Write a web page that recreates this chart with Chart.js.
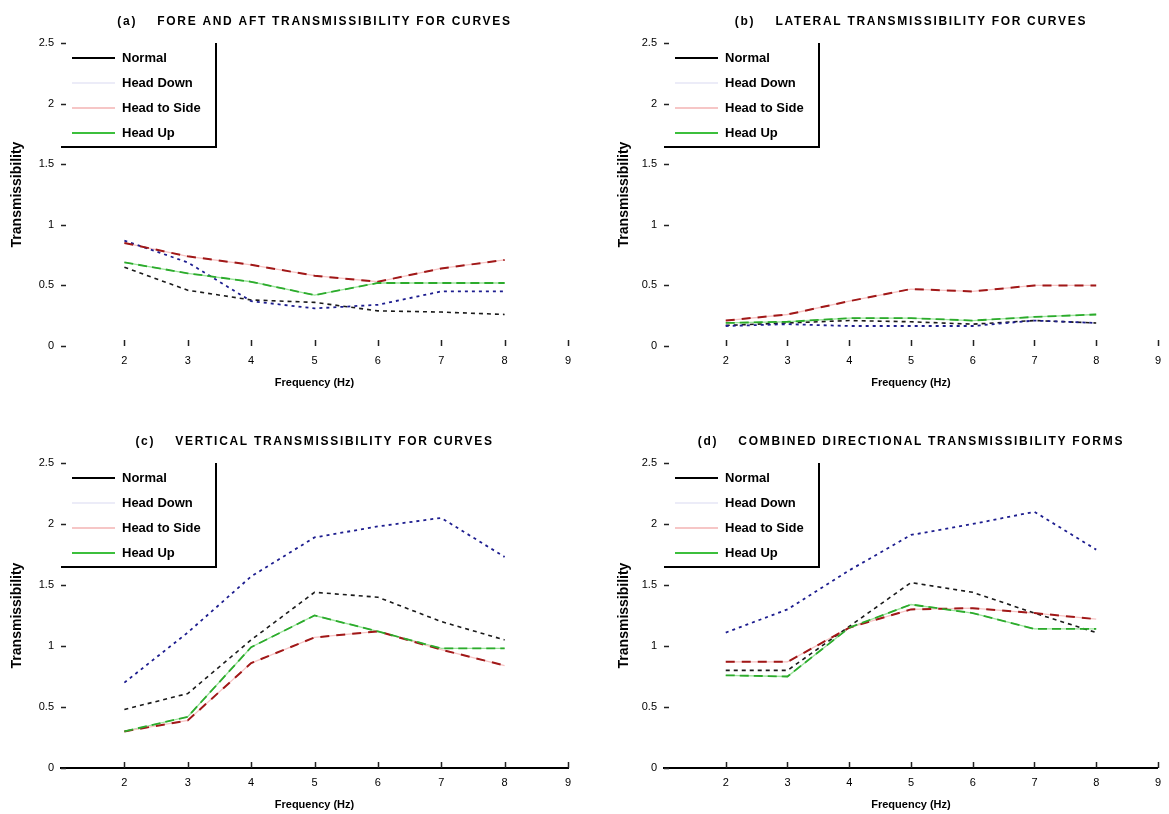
<!DOCTYPE html>
<html>
<head>
<meta charset="utf-8">
<title>Transmissibility curves</title>
<script src="https://cdn.jsdelivr.net/npm/chart.js@4.4.1/dist/chart.umd.min.js"></script>
<style>
  body { margin: 0; background: #fff; }
  #wrap { position: relative; width: 1169px; height: 814px; overflow: hidden; }
  .panel { position: absolute; }
</style>
</head>
<body>
<div id="wrap">
  <div class="panel" style="left:0;top:0;width:584px;height:392px"><canvas id="chart-a"></canvas></div>
  <div class="panel" style="left:584px;top:0;width:585px;height:392px"><canvas id="chart-b"></canvas></div>
  <div class="panel" style="left:0;top:420px;width:584px;height:394px"><canvas id="chart-c"></canvas></div>
  <div class="panel" style="left:584px;top:420px;width:585px;height:394px"><canvas id="chart-d"></canvas></div>
</div>
<script>
const freq = [2, 3, 4, 5, 6, 7, 8];
const freqTicks = [2, 3, 4, 5, 6, 7, 8, 9];
const transTicks = [0, 0.5, 1, 1.5, 2, 2.5];
const seriesNames = ['Normal', 'Head Down', 'Head to Side', 'Head Up'];

// (a) fore and aft
const foreAftNormal = [0.65, 0.46, 0.38, 0.36, 0.29, 0.28, 0.26];
const foreAftDown   = [0.87, 0.69, 0.37, 0.31, 0.34, 0.45, 0.45];
const foreAftSide   = [0.85, 0.74, 0.67, 0.58, 0.53, 0.64, 0.71];
const foreAftUp     = [0.69, 0.60, 0.53, 0.42, 0.52, 0.52, 0.52];

// (b) lateral
const lateralNormal = [0.17, 0.19, 0.21, 0.20, 0.18, 0.21, 0.19];
const lateralDown   = [0.165, 0.18, 0.165, 0.165, 0.165, 0.21, 0.19];
const lateralSide   = [0.21, 0.26, 0.37, 0.47, 0.45, 0.50, 0.50];
const lateralUp     = [0.19, 0.20, 0.23, 0.23, 0.21, 0.24, 0.26];

// (c) vertical
const verticalNormal = [0.48, 0.61, 1.05, 1.44, 1.40, 1.20, 1.05];
const verticalDown   = [0.70, 1.11, 1.57, 1.89, 1.98, 2.05, 1.73];
const verticalSide   = [0.30, 0.39, 0.86, 1.07, 1.12, 0.97, 0.84];
const verticalUp     = [0.30, 0.42, 0.99, 1.25, 1.12, 0.98, 0.98];

// (d) combined
const combinedNormal = [0.80, 0.80, 1.16, 1.52, 1.44, 1.27, 1.11];
const combinedDown   = [1.11, 1.30, 1.62, 1.91, 2.00, 2.10, 1.79];
const combinedSide   = [0.87, 0.87, 1.15, 1.30, 1.31, 1.27, 1.22];
const combinedUp     = [0.76, 0.75, 1.15, 1.34, 1.27, 1.14, 1.14];

const FONT = '"Liberation Sans", Arial, sans-serif';
Chart.defaults.font.family = FONT;
Chart.defaults.color = '#000';

// one entry per series: main stroke, optional pale stroke underneath
const lineStyles = [
    {color: '#1a1a1a', dash: [4, 4], width: 1.6},
    {color: '#1d1d8f', dash: [3, 4], width: 1.8},
    {color: '#a01818', dash: [9, 7], width: 2, under: '#f7c4c4'},
    {color: '#2cab2c', dash: [9, 5], width: 1.8, under: '#9be39b'},
];
const legendSwatch = ['#000000', '#ececf8', '#f6c6c6', '#3cbf3c'];

const panelTitle = {
    id: 'panelTitle',
    afterDraw(chart, args, opts) {
        const {ctx, chartArea: a} = chart;
        ctx.save();
        ctx.font = 'bold 12px ' + FONT;
        ctx.letterSpacing = '1.7px';
        ctx.fillStyle = '#000';
        ctx.textAlign = 'center';
        ctx.textBaseline = 'middle';
        ctx.fillText(opts.text, (a.left + a.right) / 2, opts.y);
        ctx.restore();
    }
};

// short tick marks pointing into the axes, matlab style
const innerTicks = {
    id: 'innerTicks',
    afterDraw(chart) {
        const {ctx, chartArea: a, scales: {x, y}} = chart;
        ctx.save();
        ctx.strokeStyle = '#222';
        ctx.lineWidth = 1.5;
        ctx.beginPath();
        x.ticks.forEach(t => {
            const px = Math.round(x.getPixelForValue(t.value)) + 0.5;
            ctx.moveTo(px, a.bottom);
            ctx.lineTo(px, a.bottom - 6);
        });
        y.ticks.forEach(t => {
            const py = Math.round(y.getPixelForValue(t.value)) + 0.5;
            ctx.moveTo(a.left, py);
            ctx.lineTo(a.left + 5, py);
        });
        ctx.stroke();
        ctx.restore();
    }
};

const boxLegend = {
    id: 'boxLegend',
    afterDatasetsDraw(chart) {
        const {ctx, chartArea: a} = chart;
        const w = 155, h = 104;
        ctx.save();
        ctx.fillStyle = '#fff';
        ctx.fillRect(a.left, a.top, w, h);
        ctx.strokeStyle = '#000';
        ctx.lineWidth = 2;
        ctx.beginPath();
        ctx.moveTo(a.left, a.top + h);
        ctx.lineTo(a.left + w, a.top + h);
        ctx.lineTo(a.left + w, a.top);
        ctx.stroke();
        ctx.font = 'bold 13px ' + FONT;
        ctx.textBaseline = 'middle';
        ctx.fillStyle = '#000';
        seriesNames.forEach((name, i) => {
            const yy = a.top + 15 + i * 25;
            ctx.strokeStyle = legendSwatch[i];
            ctx.lineWidth = 2;
            ctx.beginPath();
            ctx.moveTo(a.left + 11, yy);
            ctx.lineTo(a.left + 54, yy);
            ctx.stroke();
            ctx.fillText(name, a.left + 61, yy);
        });
        ctx.restore();
    }
};

function buildDatasets(series) {
    const datasets = [];
    series.forEach((vals, i) => {
        const st = lineStyles[i];
        const pts = freq.map((f, k) => ({x: f, y: vals[k]}));
        if (st.under) {
            datasets.push({
                label: seriesNames[i] + ' base',
                data: pts,
                borderColor: st.under,
                borderWidth: 1.3,
                pointRadius: 0,
                order: 10 + i,
            });
        }
        datasets.push({
            label: seriesNames[i],
            data: pts,
            borderColor: st.color,
            borderWidth: st.width,
            borderDash: st.dash,
            pointRadius: 0,
            order: 3 - i,
        });
    });
    return datasets;
}

function makePanel(id, title, series, p) {
    const ctx = document.getElementById(id).getContext('2d');
    return new Chart(ctx, {
        type: 'line',
        data: {datasets: buildDatasets(series)},
        options: {
            animation: false,
            responsive: true,
            maintainAspectRatio: false,
            layout: {padding: {top: 43, right: p.padRight, left: 0, bottom: 0}},
            scales: {
                x: {
                    type: 'linear',
                    min: 1,
                    max: 9,
                    afterBuildTicks: s => { s.ticks = freqTicks.map(v => ({value: v})); },
                    afterFit: s => { s.height = p.xHeight; },
                    grid: {display: false, drawTicks: false},
                    border: {display: p.axisLine, color: '#000', width: 2},
                    ticks: {font: {size: 11}, padding: 8, maxRotation: 0},
                    title: {
                        display: true,
                        text: 'Frequency (Hz)',
                        font: {size: 11, weight: 'bold'},
                        padding: {top: 0, bottom: p.xTitlePad},
                    },
                },
                y: {
                    min: 0,
                    max: 2.5,
                    afterBuildTicks: s => { s.ticks = transTicks.map(v => ({value: v})); },
                    afterFit: s => { s.width = p.yWidth; },
                    grid: {display: false, drawTicks: false},
                    border: {display: false},
                    ticks: {font: {size: 11}, padding: 7, callback: v => String(v)},
                    title: {
                        display: true,
                        text: 'Transmissibility',
                        font: {size: 14, weight: 'bold'},
                        padding: {top: p.yTitlePad, bottom: 0},
                    },
                },
            },
            plugins: {
                legend: {display: false},
                tooltip: {enabled: false},
                panelTitle: {text: title, y: 22},
            },
        },
        plugins: [panelTitle, innerTicks, boxLegend],
    });
}

const leftCol = {yWidth: 61, padRight: 16, yTitlePad: 9};
const rightCol = {yWidth: 80, padRight: 1, yTitlePad: 32};
const topRow = {xHeight: 46, xTitlePad: 2.4, axisLine: false};
const bottomRow = {xHeight: 46, xTitlePad: 2.4, axisLine: true};

makePanel('chart-a', '(a)    FORE AND AFT TRANSMISSIBILITY FOR CURVES',
    [foreAftNormal, foreAftDown, foreAftSide, foreAftUp], {...leftCol, ...topRow});
makePanel('chart-b', '(b)    LATERAL TRANSMISSIBILITY FOR CURVES',
    [lateralNormal, lateralDown, lateralSide, lateralUp], {...rightCol, ...topRow});
makePanel('chart-c', '(c)    VERTICAL TRANSMISSIBILITY FOR CURVES',
    [verticalNormal, verticalDown, verticalSide, verticalUp], {...leftCol, ...bottomRow});
makePanel('chart-d', '(d)    COMBINED DIRECTIONAL TRANSMISSIBILITY FORMS',
    [combinedNormal, combinedDown, combinedSide, combinedUp], {...rightCol, ...bottomRow});
</script>
</body>
</html>
